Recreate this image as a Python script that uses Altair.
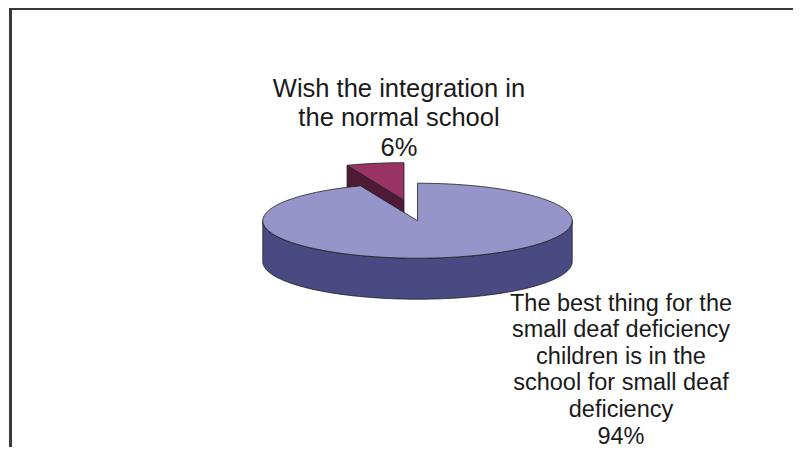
import math
import altair as alt
import pandas as pd

# ---- data ----
categories = [
    "The best thing for the small deaf deficiency children is in the school for small deaf deficiency",
    "Wish the integration in the normal school",
]
label_lines = [
    ["The best thing for the", "small deaf deficiency", "children is in the",
     "school for small deaf", "deficiency"],
    ["Wish the integration in", "the normal school"],
]
values = [94, 6]
top_colors = ["#9595C9", "#993366"]
side_colors = ["#4A4A82", "#4E1A35"]

# ---- layout / style constants (pixels inside the 785x439 plot) ----
W, H = 785, 439
CX, CY = 409.5, 212.7
RX, RY = 154.7, 37.5
DEPTH = 41
EXPLODE = [(0.0, 0.0), (-13.5, -20.5)]
LABEL_POS = [(613, 302.5, 23.5, 26.6), (391, 88.7, 25.5, 29.5)]
OUTLINE = "#1e1e1e"


def pt(theta, dx, dy, down=0.0):
    r = math.radians(theta)
    return CX + dx + RX * math.sin(r), CY + dy - RY * math.cos(r) + down


def arc(a, b, dx, dy, down=0.0, step=1.5):
    n = max(2, int(abs(b - a) / step) + 1)
    return [pt(a + (b - a) * k / (n - 1), dx, dy, down) for k in range(n)]


total = float(sum(values))
angles = []
acc = 0.0
for v in values:
    a0 = acc / total * 360.0
    acc += v
    angles.append((a0, acc / total * 360.0))

polys = []  # (id, fill, points) in drawing order
for s in reversed(range(len(values))):
    a, b = angles[s]
    dx, dy = EXPLODE[s]
    c_top = (CX + dx, CY + dy)
    c_bot = (CX + dx, CY + dy + DEPTH)
    # radial faces
    if math.sin(math.radians(a)) < -1e-9:
        p1, p2 = pt(a, dx, dy), pt(a, dx, dy, DEPTH)
        polys.append((f"rs{s}", side_colors[s], [c_top, p1, p2, c_bot, c_top]))
    if math.sin(math.radians(b)) > 1e-9:
        p1, p2 = pt(b, dx, dy), pt(b, dx, dy, DEPTH)
        polys.append((f"re{s}", side_colors[s], [c_top, p1, p2, c_bot, c_top]))
    # outer wall (front half only)
    lo, hi = max(a, 90.0), min(b, 270.0)
    if hi > lo:
        top = arc(lo, hi, dx, dy)
        bot = arc(hi, lo, dx, dy, DEPTH)
        pts = top + bot + [top[0]]
        polys.append((f"w{s}", side_colors[s], pts))
    # top face
    pts = [c_top] + arc(a, b, dx, dy) + [c_top]
    polys.append((f"t{s}", top_colors[s], pts))

rows = []
for pid, fill, pts in polys:
    for i, (x, y) in enumerate(pts):
        rows.append({"poly": pid, "i": i, "x": x, "y": y})
geo = pd.DataFrame(rows)

xs = alt.Scale(domain=[0, W], nice=False, zero=False)
ys = alt.Scale(domain=[0, H], nice=False, zero=False, reverse=True)

layers = []
# chart frame (left and top edges)
layers.append(alt.Chart(geo).mark_rule(color="#3a3a3a", strokeWidth=1.6).encode(
    x=alt.value(2.5), y=alt.value(0), y2=alt.value(H)))
layers.append(alt.Chart(geo).mark_rule(color="#3a3a3a", strokeWidth=1.6).encode(
    y=alt.value(0.8), x=alt.value(2.5), x2=alt.value(W)))

for pid, fill, pts in polys:
    layers.append(
        alt.Chart(geo)
        .transform_filter(alt.datum.poly == pid)
        .mark_line(fill=fill, stroke=OUTLINE, strokeWidth=0.8, strokeJoin="round")
        .encode(
            x=alt.X("x:Q", scale=xs, axis=None),
            y=alt.Y("y:Q", scale=ys, axis=None),
            order=alt.Order("i:Q"),
        )
    )

for s in range(len(values)):
    lx, ly, fs, lh = LABEL_POS[s]
    text = "\n".join(label_lines[s] + [f"{values[s]}%"])
    tdf = pd.DataFrame({"x": [lx], "y": [ly], "label": [text], "category": [categories[s]]})
    layers.append(
        alt.Chart(tdf)
        .mark_text(font="Liberation Sans", fontSize=fs, lineHeight=lh, lineBreak="\n",
                   align="center", baseline="alphabetic", color="#1a1a1a")
        .encode(
            x=alt.X("x:Q", scale=xs, axis=None),
            y=alt.Y("y:Q", scale=ys, axis=None),
            text="label:N",
        )
    )

chart = (
    alt.layer(*layers)
    .properties(width=W, height=H, padding=0, autosize="none", background="white")
    .configure_view(stroke=None)
)

chart.save("out.html", embed_options={"renderer": "svg", "actions": False})
